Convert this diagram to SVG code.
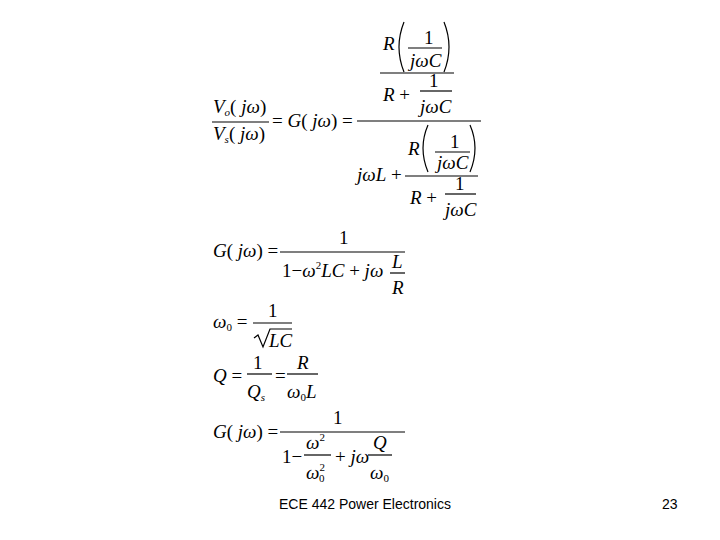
<svg xmlns="http://www.w3.org/2000/svg" width="720" height="540" viewBox="0 0 720 540">
<style>
text{font-family:"Liberation Serif",serif;font-size:19px;fill:#000}
.i{font-style:italic}
.s{font-size:11px}
.f{font-family:"Liberation Sans",sans-serif;font-size:14px}
line{stroke:#000;stroke-width:1.2}
path{fill:none;stroke:#000;stroke-width:1.2}
</style>
<rect width="720" height="540" fill="#fff"/>
<g id="eq1">
<text x="213" y="113" class="i">V<tspan class="s" dy="3">o</tspan><tspan dy="-3" font-style="normal">(</tspan> jω<tspan font-style="normal">)</tspan></text>
<line x1="212" y1="122" x2="269" y2="122"/>
<text x="213" y="140" class="i">V<tspan class="s" dy="3">s</tspan><tspan dy="-3" font-style="normal">(</tspan> jω<tspan font-style="normal">)</tspan></text>
<text x="272" y="127">= <tspan class="i">G</tspan>( <tspan class="i">jω</tspan>) =</text>
<line x1="357" y1="121" x2="481" y2="121"/>
<text x="383" y="50" class="i">R</text>
<path d="M404 22 Q394 47 404 72 M444 22 Q454 47 444 72"/>
<text x="424" y="44">1</text>
<line x1="408" y1="48" x2="442" y2="48"/>
<text x="410" y="67" class="i">jωC</text>
<line x1="380" y1="73" x2="454" y2="73"/>
<text x="383" y="101"><tspan class="i">R</tspan> +</text>
<text x="429" y="87">1</text>
<line x1="420" y1="91" x2="452" y2="91"/>
<text x="420" y="113" class="i">jωC</text>
<text x="357" y="181"><tspan class="i">jωL</tspan> +</text>
<text x="408" y="155" class="i">R</text>
<path d="M428 125 Q418 148 428 172 M470 125 Q480 148 470 172"/>
<text x="450" y="148">1</text>
<line x1="435" y1="152" x2="470" y2="152"/>
<text x="437" y="169" class="i">jωC</text>
<line x1="405" y1="176" x2="478" y2="176"/>
<text x="410" y="204"><tspan class="i">R</tspan> +</text>
<text x="455" y="190">1</text>
<line x1="445" y1="194" x2="476" y2="194"/>
<text x="445" y="216" class="i">jωC</text>
</g>
<g id="eq2">
<text x="213" y="257"><tspan class="i">G</tspan>( <tspan class="i">jω</tspan>) =</text>
<text x="339" y="244">1</text>
<line x1="280" y1="252" x2="405" y2="252"/>
<text x="282" y="277">1−<tspan class="i">ω</tspan><tspan class="s" dy="-8">2</tspan><tspan class="i" dy="8">LC</tspan> + <tspan class="i">jω</tspan></text>
<text x="392" y="268" class="i">L</text>
<line x1="390" y1="273" x2="405" y2="273"/>
<text x="392" y="294" class="i">R</text>
</g>
<g id="eq3">
<text x="213" y="328" class="i">ω<tspan class="s" font-style="normal" dy="3">0</tspan><tspan font-style="normal" dy="-3"> =</tspan></text>
<text x="268" y="317">1</text>
<line x1="253" y1="323" x2="292" y2="323"/>
<path d="M254 338 L258 335 L263 347 L270 329 L292 329"/>
<text x="269" y="347" class="i">LC</text>
</g>
<g id="eq4">
<text x="213" y="382" class="i">Q<tspan font-style="normal"> =</tspan></text>
<text x="253" y="369">1</text>
<line x1="247" y1="374" x2="272" y2="374"/>
<text x="247" y="398" class="i">Q<tspan class="s" dy="3">s</tspan></text>
<text x="275" y="382">=</text>
<text x="297" y="369" class="i">R</text>
<line x1="287" y1="374" x2="318" y2="374"/>
<text x="287" y="398" class="i">ω<tspan class="s" font-style="normal" dy="3">0</tspan><tspan dy="-3">L</tspan></text>
</g>
<g id="eq5">
<text x="213" y="438"><tspan class="i">G</tspan>( <tspan class="i">jω</tspan>) =</text>
<text x="333" y="424">1</text>
<line x1="280" y1="432" x2="405" y2="432"/>
<text x="282" y="463">1−</text>
<text x="306" y="449" class="i">ω<tspan class="s" font-style="normal" dy="-8">2</tspan></text>
<line x1="304" y1="455" x2="331" y2="455"/>
<text x="306" y="479" class="i">ω<tspan class="s" font-style="normal" dy="-8">2</tspan><tspan class="s" font-style="normal" dx="-6" dy="11">0</tspan></text>
<text x="335" y="463">+ <tspan class="i">jω</tspan></text>
<text x="373" y="449" class="i">Q</text>
<line x1="368" y1="455" x2="392" y2="455"/>
<text x="370" y="479" class="i">ω<tspan class="s" font-style="normal" dy="3">0</tspan></text>
</g>
<text x="365" y="509" class="f" text-anchor="middle">ECE 442 Power Electronics</text>
<text x="662" y="509" class="f">23</text>
</svg>
